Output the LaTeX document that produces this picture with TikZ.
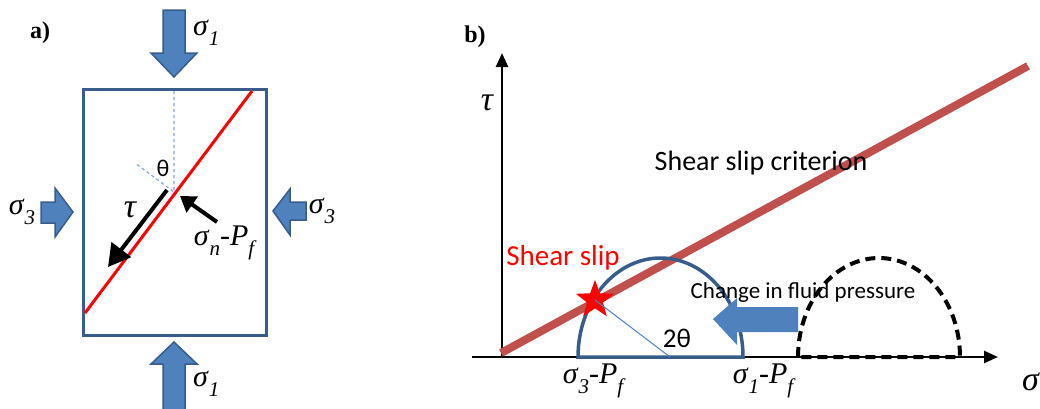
\documentclass[tikz,border=0pt]{standalone}
\usepackage{fontspec}
\setmainfont{Liberation Serif}
\newfontfamily\calibri{Carlito}
\usetikzlibrary{arrows.meta,shapes.geometric}
\definecolor{blockfill}{HTML}{4F81BD}
\definecolor{blockedge}{HTML}{385D8A}
\definecolor{critred}{HTML}{C0504D}
\definecolor{guideblue}{HTML}{7FA6D8}
\newcommand{\lowsub}[1]{\raisebox{-0.32em}{\fontsize{21}{21}\selectfont\itshape #1}}
\newcommand{\effstress}[1]{\textit{σ}\lowsub{#1}-\textit{P}\lowsub{f}}

\begin{document}
\begin{tikzpicture}[x=1pt,y=-1pt,
    blockarrow/.style={fill=blockfill,draw=blockedge,line width=1.5pt,line join=miter},
    symb/.style={font=\fontsize{30}{36}\selectfont,inner sep=0pt},
    sans/.style={font=\calibri\fontsize{#1}{#1}\selectfont,inner sep=0pt},
    panel/.style={font=\fontsize{24}{28}\selectfont\bfseries,inner sep=0pt}]
  \useasboundingbox (0,0) rectangle (1040,408);

  % ---- a) sample under load ----
  \node[panel] (pa) at (40,33) {a)};
  \draw[blockedge, line width=3pt] (83,89) rectangle (266,335);

  % load arrows
  \draw[blockarrow] (163,10) -- (185,10) -- (185,53) -- (197,53) -- (174,77) -- (151,53) -- (163,53) -- cycle;
  \draw[blockarrow] (163,410) -- (185,410) -- (185,364) -- (197,364) -- (174,342) -- (151,364) -- (163,364) -- cycle;
  \draw[blockarrow] (41,202) -- (55,202) -- (55,188) -- (73,212) -- (55,237) -- (55,223) -- (41,223) -- cycle;
  \draw[blockarrow] (306,202) -- (290,202) -- (290,189) -- (273,211) -- (290,235) -- (290,220) -- (306,220) -- cycle;
  \node[symb, anchor=west] (s1top) at (193,33) {\textit{σ}\lowsub{1}};
  \node[symb, anchor=west] (s1bot) at (193,384) {\textit{σ}\lowsub{1}};
  \node[symb] (s3left) at (22,212) {\textit{σ}\lowsub{3}};
  \node[symb] (s3right) at (322,211) {\textit{σ}\lowsub{3}};

  % guide lines and fault
  \coordinate (mid) at (174,192);
  \draw[guideblue, dashed, line width=1.2pt] (174,91) -- (mid) -- (135,163);
  \draw[red, line width=3pt] (85,313) -- (252,91);
  \node[sans=24] (theta) at (163,168) {θ};

  % shear and normal stress on the fault
  \coordinate (tau0) at (167,190);
  \coordinate (tau1) at (108,267);
  \draw[line width=4pt, -{Triangle[length=22pt,width=24pt]}] (tau0) -- (tau1);
  \node[symb, font=\fontsize{34}{36}\selectfont\itshape] (taua) at (130,210) {τ};
  \coordinate (sn0) at (217,222);
  \coordinate (sn1) at (180,196);
  \draw[line width=4pt, -{Triangle[length=15pt,width=19pt]}] (sn0) -- (sn1);
  \node[symb] (sna) at (224,243) {\textit{σ}\lowsub{n}-\textit{P}\lowsub{f}};

  % ---- b) Mohr diagram ----
  \node[panel] (pb) at (475,37) {b)};
  \coordinate (orig) at (502,357);
  \coordinate (xend) at (998,357);
  \coordinate (xstart) at (472,357);
  \coordinate (yend) at (502,53);
  \draw[line width=2.5pt, -{Triangle[length=14pt,width=12pt]}] (xstart) -- (xend);
  \draw[line width=2.5pt, -{Triangle[length=14pt,width=12pt]}] (orig) -- (yend);
  \node[symb, font=\fontsize{34}{36}\selectfont\itshape] (taub) at (487,103) {τ};
  \node[symb, font=\fontsize{34}{36}\selectfont\itshape, anchor=west] (sigb) at (1022,382) {σ};

  % failure line
  \draw[critred, line width=8pt] (501,353) -- (1028,66);
  \node[sans=28] (crit) at (761,163) {Shear slip criterion};

  % shifted circle (before) and circle at slip
  \draw[black, line width=4pt, dash pattern=on 10pt off 6pt] (798,357) arc[start angle=180, end angle=360, x radius=81, y radius=99] -- cycle;
  \draw[blockedge, line width=3.5pt] (578,357) arc[start angle=180, end angle=360, x radius=82.5, y radius=99] -- cycle;
  \node[star, star points=5, star point ratio=2.4, fill=red, minimum size=40pt, inner sep=0pt] (slip) at (595,300) {};
  \coordinate (ctr) at (670,357);
  \draw[blockfill, line width=1pt] (slip.center) -- (ctr);
  \node[sans=27] (twotheta) at (677,338) {2θ};
  \node[sans=29, text=red] (sliplbl) at (563,258) {Shear slip};

  % pressure change arrow
  \draw[blockarrow, draw=none] (798,307) -- (737,307) -- (737,298) -- (713,319) -- (737,345) -- (737,332) -- (798,332) -- cycle;
  \node[sans=23] (fluid) at (803,292) {Change in fluid pressure};

  \node[symb] (s3pf) at (593,381) {\effstress{3}};
  \node[symb] (s1pf) at (763,381) {\effstress{1}};
\end{tikzpicture}
\end{document}
